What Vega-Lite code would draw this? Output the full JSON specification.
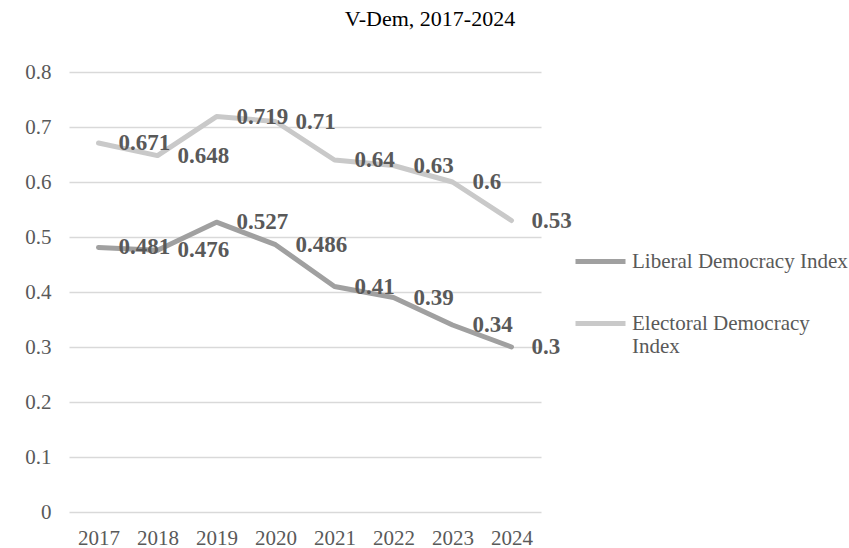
{
  "$schema": "https://vega.github.io/schema/vega-lite/v6.json",
  "width": 472,
  "height": 440,
  "autosize": {"type": "none"},
  "padding": {"left": 69, "top": 72, "right": 308, "bottom": 36},
  "background": "white",
  "view": {"stroke": null},
  "title": {
    "text": "V-Dem, 2017-2024",
    "font": "Liberation Serif",
    "fontSize": 22,
    "fontWeight": "normal",
    "color": "#000000",
    "anchor": "middle",
    "baseline": "alphabetic",
    "offset": 13,
    "dx": 125
  },
  "data": {
    "values": [
      {"series": "Liberal Democracy Index", "year": "2017", "value": 0.481},
      {"series": "Liberal Democracy Index", "year": "2018", "value": 0.476},
      {"series": "Liberal Democracy Index", "year": "2019", "value": 0.527},
      {"series": "Liberal Democracy Index", "year": "2020", "value": 0.486},
      {"series": "Liberal Democracy Index", "year": "2021", "value": 0.41},
      {"series": "Liberal Democracy Index", "year": "2022", "value": 0.39},
      {"series": "Liberal Democracy Index", "year": "2023", "value": 0.34},
      {"series": "Liberal Democracy Index", "year": "2024", "value": 0.3},
      {"series": "Electoral Democracy Index", "year": "2017", "value": 0.671},
      {"series": "Electoral Democracy Index", "year": "2018", "value": 0.648},
      {"series": "Electoral Democracy Index", "year": "2019", "value": 0.719},
      {"series": "Electoral Democracy Index", "year": "2020", "value": 0.71},
      {"series": "Electoral Democracy Index", "year": "2021", "value": 0.64},
      {"series": "Electoral Democracy Index", "year": "2022", "value": 0.63},
      {"series": "Electoral Democracy Index", "year": "2023", "value": 0.6},
      {"series": "Electoral Democracy Index", "year": "2024", "value": 0.53}
    ]
  },
  "encoding": {
    "x": {
      "field": "year",
      "type": "ordinal",
      "scale": {"type": "point", "padding": 0.5},
      "axis": {
        "title": null,
        "labelAngle": 0,
        "domain": false,
        "ticks": false,
        "grid": false,
        "labelFont": "Liberation Serif",
        "labelFontSize": 21,
        "labelColor": "#595959",
        "labelPadding": 15
      }
    },
    "y": {
      "field": "value",
      "type": "quantitative",
      "scale": {"domain": [0, 0.8], "nice": false},
      "axis": {
        "title": null,
        "values": [0, 0.1, 0.2, 0.3, 0.4, 0.5, 0.6, 0.7, 0.8],
        "format": "~g",
        "domain": false,
        "ticks": false,
        "grid": true,
        "gridColor": "#d9d9d9",
        "gridWidth": 1.3,
        "labelFont": "Liberation Serif",
        "labelFontSize": 21,
        "labelColor": "#595959",
        "labelPadding": 18
      }
    }
  },
  "layer": [
    {
      "mark": {"type": "line", "strokeWidth": 5, "strokeCap": "round", "strokeJoin": "round"},
      "encoding": {
        "color": {
          "field": "series",
          "type": "nominal",
          "scale": {
            "domain": ["Liberal Democracy Index", "Electoral Democracy Index"],
            "range": ["#a0a0a0", "#c9c9c9"]
          },
          "legend": {
            "title": null,
            "orient": "none",
            "legendX": 504,
            "legendY": 162,
            "padding": 0,
            "symbolType": "stroke",
            "symbolSize": 2500,
            "symbolStrokeWidth": 5,
            "labelFont": "Liberation Serif",
            "labelFontSize": 21,
            "labelColor": "#595959",
            "labelLimit": 400,
            "labelOffset": 4,
            "rowPadding": 24,
            "labelExpr": "datum.label == 'Electoral Democracy Index' ? ['Electoral Democracy', 'Index'] : datum.label"
          }
        }
      }
    },
    {
      "mark": {
        "type": "text",
        "align": "left",
        "baseline": "middle",
        "dx": 20,
        "font": "Liberation Serif",
        "fontSize": 23,
        "fontWeight": "bold",
        "color": "#595959"
      },
      "encoding": {
        "text": {"field": "value", "type": "quantitative", "format": "~g"}
      }
    }
  ]
}
